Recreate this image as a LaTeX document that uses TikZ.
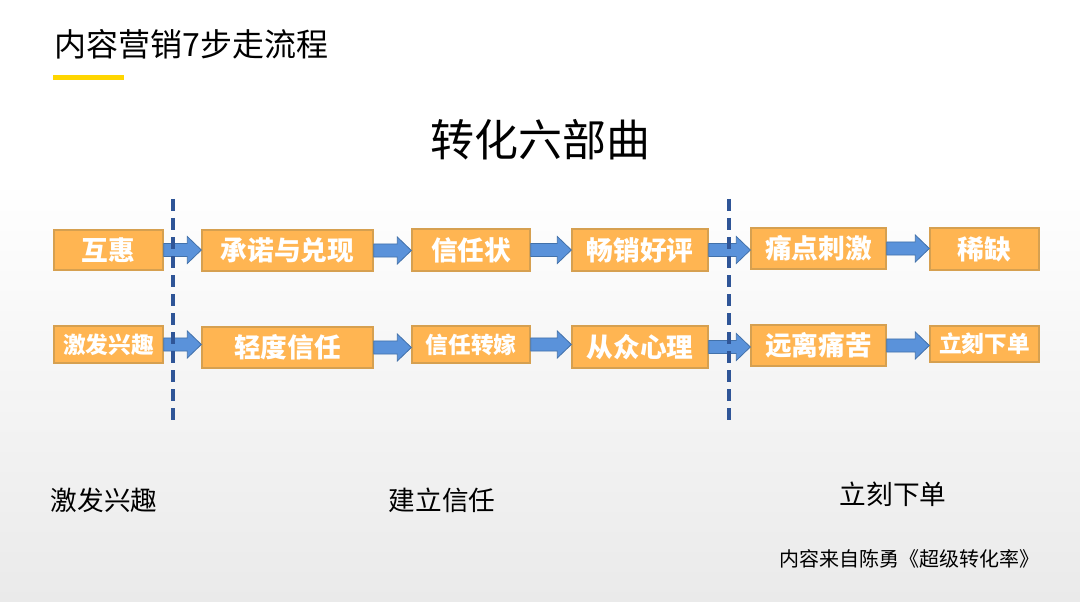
\documentclass[tikz,border=0pt]{standalone}
\usepackage{fontspec}
\setmainfont{Noto Sans CJK SC}
\newfontfamily\cjk{Noto Sans CJK SC}
\usetikzlibrary{calc}
\definecolor{boxfill}{RGB}{255,181,82}
\definecolor{boxline}{RGB}{214,160,80}
\definecolor{arrfill}{RGB}{90,146,218}
\definecolor{arrline}{RGB}{66,113,170}
\definecolor{dashcol}{RGB}{47,85,151}
\definecolor{barcol}{RGB}{255,214,0}
\definecolor{bgbot}{RGB}{234,234,234}
\tikzset{
  box/.style={draw=boxline, line width=1pt, fill=boxfill, inner sep=0pt, text=white, font=\cjk\bfseries\fontsize{20}{22}\selectfont},
  boxs/.style={box, font=\cjk\bfseries\fontsize{17}{20}\selectfont},
  arr/.style={draw=arrline, line width=0.6pt, fill=arrfill},
  divider/.style={draw=dashcol, line width=2.6pt, dash pattern=on 9pt off 5.25pt},
  lbl/.style={inner sep=0pt, text=black, font=\cjk\fontsize{20}{24}\selectfont}
}
\newcommand\bbox[7][box]{%
  \node[#1, minimum width={(#5-#3)*0.75pt}, minimum height={(#6-#4)*0.75pt}] (#2) at ({(#3+#5)/2},{(#4+#6)/2}) {#7};}
\newcommand\blockarrow[2]{%
  \path[arr] let \p1=(#1.east), \p2=(#2.west) in
    (\x1,\y1+4.9pt) -- (\x2-10.5pt,\y1+4.9pt) -- (\x2-10.5pt,\y1+10.1pt) -- (\x2,\y1) --
    (\x2-10.5pt,\y1-10.1pt) -- (\x2-10.5pt,\y1-4.9pt) -- (\x1,\y1-4.9pt) -- cycle;}
\begin{document}
\begin{tikzpicture}[x=0.75pt,y=-0.75pt]
\useasboundingbox (0,0) rectangle (1080,602);
\shade[top color=white, bottom color=bgbot] (0,180) rectangle (1080,602);
\fill[white] (0,0) rectangle (1080,180);
% header
\node[lbl, anchor=west, font=\cjk\fontsize{24}{28}\selectfont] (hdr) at (54,44) {内容营销7步走流程};
\fill[barcol] (53,75) rectangle (124,80);
% title
\node[lbl, font=\cjk\fontsize{33}{38}\selectfont] (title) at (540,140) {转化六部曲};
% dividers
\coordinate (d1t) at (173,199); \coordinate (d1b) at (173,420);
\coordinate (d2t) at (729,199); \coordinate (d2b) at (729,420);
% row 1
\bbox{A1}{54}{230}{163}{270}{互惠}
\bbox{A2}{202}{230}{373}{271}{承诺与兑现}
\bbox{A3}{412}{229}{530}{271}{信任状}
\bbox{A4}{572}{229}{708}{271}{畅销好评}
\bbox{A5}{751}{228}{886}{269}{痛点刺激}
\bbox{A6}{930}{228}{1039}{270}{稀缺}
% row 2
\bbox[boxs]{B1}{54}{326}{163}{363}{激发兴趣}
\bbox{B2}{202}{327}{373}{368}{轻度信任}
\bbox[boxs]{B3}{412}{326}{530}{363}{信任转嫁}
\bbox{B4}{572}{326}{708}{368}{从众心理}
\bbox{B5}{751}{325}{886}{366}{远离痛苦}
\bbox[boxs]{B6}{930}{326}{1039}{362}{立刻下单}
% arrows
\blockarrow{A1}{A2}\blockarrow{A2}{A3}\blockarrow{A3}{A4}\blockarrow{A4}{A5}\blockarrow{A5}{A6}
\blockarrow{B1}{B2}\blockarrow{B2}{B3}\blockarrow{B3}{B4}\blockarrow{B4}{B5}\blockarrow{B5}{B6}
\draw[divider] (d1t) -- (d1b);
\draw[divider] (d2t) -- (d2b);
% bottom labels
\node[lbl] (L1) at (104,500) {激发兴趣};
\node[lbl] (L2) at (442,500) {建立信任};
\node[lbl] (L3) at (893,494) {立刻下单};
\node[lbl, anchor=east, font=\cjk\fontsize{15}{18}\selectfont] (src) at (1040,559) {内容来自陈勇《超级转化率》};
\end{tikzpicture}
\end{document}
